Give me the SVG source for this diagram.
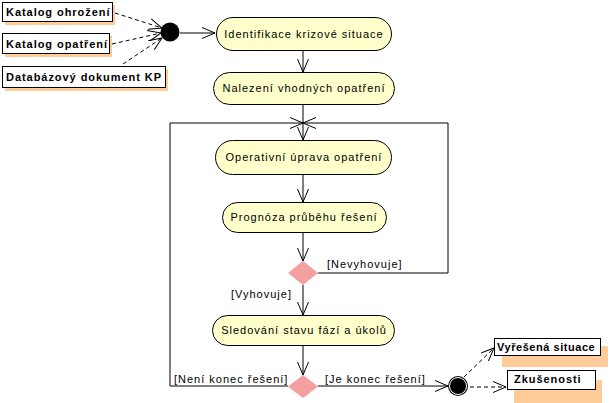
<svg xmlns="http://www.w3.org/2000/svg" width="610" height="403" viewBox="0 0 610 403">
<style>
.bg{fill:#ffffff}
.act{fill:#ffffcc;stroke:#000;stroke-width:1}
.dec{fill:#f4a0a0;stroke:none}
.obj{fill:#ffffff;stroke:#000;stroke-width:1}
.sh{fill:#ffcc99;stroke:none}
.t{font-family:"Liberation Sans",Arial,sans-serif;font-size:11px;letter-spacing:1px;fill:#000}
.tb{font-family:"Liberation Sans",Arial,sans-serif;font-size:11px;font-weight:bold;letter-spacing:0.95px;fill:#000}
.tn{letter-spacing:0.55px}
.ln{fill:none;stroke:#000;stroke-width:1}
.dash{fill:none;stroke:#000;stroke-width:1;stroke-dasharray:4,3}
</style>
<defs>
<marker id="ar" markerWidth="14" markerHeight="12" refX="13" refY="6" orient="auto" markerUnits="userSpaceOnUse">
<path d="M0,0.5 L13,6 L0,11.5" fill="none" stroke="#000" stroke-width="1"/>
</marker>
</defs>
<rect class="bg" x="0" y="0" width="610" height="403"/>

<g id="connectors">
<path class="dash" d="M115,13 L162,28" marker-end="url(#ar)"/>
<path class="dash" d="M112,44 L161,33" marker-end="url(#ar)"/>
<path class="dash" d="M123,64 L162,38" marker-end="url(#ar)"/>
<path class="ln" d="M180,33 L215,33" marker-end="url(#ar)"/>
<path class="ln" d="M303,50 L303,72" marker-end="url(#ar)"/>
<path class="ln" d="M303,104 L303,140" marker-end="url(#ar)"/>
<path class="ln" d="M303,175 L303,202" marker-end="url(#ar)"/>
<path class="ln" d="M303,233 L303,261" marker-end="url(#ar)"/>
<path class="ln" d="M318,273 L448,273 L448,123 L303,123" marker-end="url(#ar)"/>
<path class="ln" d="M303,285 L303,315" marker-end="url(#ar)"/>
<path class="ln" d="M303,345 L303,375" marker-end="url(#ar)"/>
<path class="ln" d="M288,386 L170,386 L170,123 L303,123" marker-end="url(#ar)"/>
<path class="ln" d="M318,386 L448,386" marker-end="url(#ar)"/>
<path class="dash" d="M464,377 L494,348" marker-end="url(#ar)"/>
<path class="dash" d="M470,387 L506,387" marker-end="url(#ar)"/>
<text class="t" x="327" y="268">[Nevyhovuje]</text>
<text class="t" x="231" y="298">[Vyhovuje]</text>
<text class="t" x="174" y="383">[Není konec řešení]</text>
<text class="t" x="325" y="383">[Je konec řešení]</text>
</g>

<g id="katalog-ohrozeni">
<rect class="sh" x="5" y="5" width="110" height="20"/>
<rect class="obj" x="2.5" y="2.5" width="110" height="19"/>
<text class="tb" x="6" y="16">Katalog ohrožení</text>
</g>
<g id="katalog-opatreni">
<rect class="sh" x="5" y="36" width="107" height="21"/>
<rect class="obj" x="2.5" y="33.5" width="107" height="20"/>
<text class="tb" x="6" y="48">Katalog opatření</text>
</g>
<g id="databazovy-dokument">
<rect class="sh" x="5" y="69" width="163" height="22"/>
<rect class="obj" x="2.5" y="66.5" width="163" height="21"/>
<text class="tb" x="6" y="81">Databázový dokument KP</text>
</g>

<g id="start">
<circle cx="170" cy="32" r="9.5" fill="#000"/>
</g>

<g id="identifikace">
<rect class="act" x="216.5" y="17.5" width="175" height="33" rx="16.5"/>
<text class="t" x="304" y="38" text-anchor="middle">Identifikace krizové situace</text>
</g>
<g id="nalezeni">
<rect class="act" x="213.5" y="72.5" width="181" height="32" rx="16"/>
<text class="t" x="304" y="92" text-anchor="middle">Nalezení vhodných opatření</text>
</g>
<g id="operativni">
<rect class="act" x="215.5" y="140.5" width="176" height="34" rx="17"/>
<text class="t" x="304" y="161" text-anchor="middle">Operativní úprava opatření</text>
</g>
<g id="prognoza">
<rect class="act" x="222.5" y="202.5" width="164" height="30" rx="15"/>
<text class="t" x="304" y="221" text-anchor="middle">Prognóza průběhu řešení</text>
</g>
<g id="rozhodnuti1">
<polygon class="dec" points="303,261 318,273 303,285 288,273"/>
</g>
<g id="sledovani">
<rect class="act" x="212.5" y="315.5" width="182" height="30" rx="15"/>
<text class="t" x="304" y="334" text-anchor="middle">Sledování stavu fází a úkolů</text>
</g>
<g id="rozhodnuti2">
<polygon class="dec" points="303,375 318,386.5 303,398 288,386.5"/>
</g>

<g id="end">
<circle cx="458" cy="386" r="10" fill="#000"/>
<circle cx="458" cy="386" r="8.5" fill="none" stroke="#fff" stroke-width="1"/>
</g>

<g id="vyresena-situace">
<rect class="sh" x="502" y="346" width="106" height="21"/>
<rect class="obj" x="494.5" y="338.5" width="106" height="17"/>
<text class="tb tn" x="497" y="351">Vyřešená situace</text>
</g>
<g id="zkusenosti">
<rect class="sh" x="514" y="380" width="88" height="23"/>
<rect class="obj" x="507.5" y="370.5" width="88" height="19"/>
<text class="tb" x="514" y="383">Zkušenosti</text>
</g>
</svg>
